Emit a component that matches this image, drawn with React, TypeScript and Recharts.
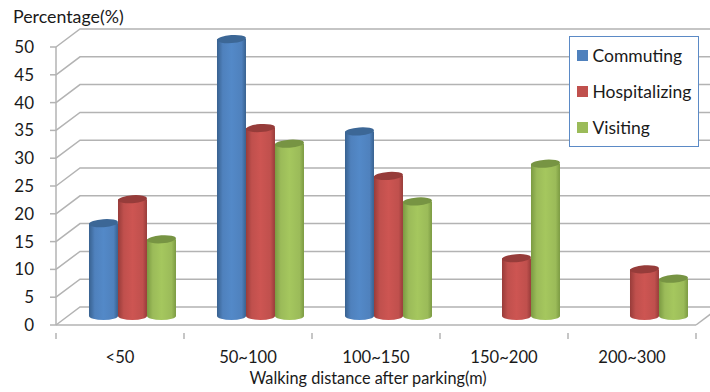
import React from "react";
import { BarChart, Bar, XAxis, YAxis, CartesianGrid, Legend } from "recharts";

const categories = ["<50", "50~100", "100~150", "150~200", "200~300"];
const commuting = [16.7, 49.8, 33.2, null, null];
const hospitalizing = [21, 33.8, 25.2, 10.4, 8.4];
const visiting = [13.8, 31, 20.6, 27.4, 6.7];
const yTicks = [0, 5, 10, 15, 20, 25, 30, 35, 40, 45, 50];

const data = categories.map((name, i) => ({
  name,
  Commuting: commuting[i],
  Hospitalizing: hospitalizing[i],
  Visiting: visiting[i],
}));

const W = 710;
const H = 392;
const margin = { top: 47, right: 14, bottom: 0, left: 0 };
const AXIS_W = 56;
const X_AXIS_H = 67;
const BAND = (W - AXIS_W - margin.right) / categories.length;
const FONT = "Lato, 'Open Sans', sans-serif";
const TEXT = "#1a1a1a";
const GRID = "#b3b3b3";

// wall depth of the fake 3D box, bars stand halfway into it
const DEPTH_X = 24;
const DEPTH_Y = 18;

const series = [
  { key: "Commuting", fill: "#4F81BD", light: "#5389C8", top: "#3C6796", edge: "#38618f", id: "cylBlue" },
  { key: "Hospitalizing", fill: "#C0504D", light: "#CD5552", top: "#963C3A", edge: "#983c3a", id: "cylRed" },
  { key: "Visiting", fill: "#9BBB59", light: "#A5C75E", top: "#779443", edge: "#7b9a42", id: "cylGreen" },
];

function Cylinder(props: any) {
  const { x, y, width, height, gradient, top } = props;
  if (!height || height <= 0) return null;
  const left = x + DEPTH_X / 2;
  const w = width;
  const cy = y - DEPTH_Y / 2;
  const base = cy + height;
  const ry = 4;
  const body = `M${left},${cy} L${left},${base} A${w / 2},${ry} 0 0 0 ${left + w},${base} L${left + w},${cy} Z`;
  return (
    <g>
      <path d={body} fill={`url(#${gradient})`} />
      <ellipse
        cx={left + w / 2}
        cy={cy}
        rx={w / 2}
        ry={ry}
        fill={top}
        transform={`rotate(-4 ${left + w / 2} ${cy})`}
      />
    </g>
  );
}

// each gridline runs along the left wall, then across the back
function WallLine(props: any) {
  const { x1, x2, y1 } = props;
  const floor = Math.abs(y1 - (H - X_AXIS_H)) < 1;
  return (
    <g>
      <polyline
        points={`${x1},${y1} ${x1 + DEPTH_X},${y1 - DEPTH_Y} ${x2 + DEPTH_X},${y1 - DEPTH_Y}`}
        fill="none"
        stroke={GRID}
        strokeWidth={1.5}
      />
      {floor && <line x1={x2} y1={y1} x2={x2 + DEPTH_X} y2={y1 - DEPTH_Y} stroke={GRID} strokeWidth={1.5} />}
    </g>
  );
}

function CategoryTick(props: any) {
  const { x, y, payload, index } = props;
  const left = x - BAND / 2;
  return (
    <g>
      <line x1={left} y1={y} x2={left} y2={y + 6} stroke={GRID} strokeWidth={1.5} />
      {index === categories.length - 1 && (
        <line x1={x + BAND / 2} y1={y} x2={x + BAND / 2} y2={y + 6} stroke={GRID} strokeWidth={1.5} />
      )}
      <text x={x} y={y + 30} textAnchor="middle" fontFamily={FONT} fontSize={16.6} fill={TEXT}>
        {payload.value}
      </text>
    </g>
  );
}

function LegendBox() {
  return (
    <div
      style={{
        boxSizing: "border-box",
        width: 130,
        height: 111,
        background: "#fff",
        border: "1.5px solid #5b8ac6",
        padding: "0 0 0 6.5px",
        display: "flex",
        flexDirection: "column",
        justifyContent: "space-around",
        fontFamily: FONT,
        fontSize: 17.5,
        color: TEXT,
        whiteSpace: "nowrap",
      }}
    >
      {series.map((s) => (
        <div key={s.key} style={{ display: "flex", alignItems: "center", height: 37 }}>
          <span style={{ width: 11, height: 11, background: s.fill, marginRight: 5, flex: "none" }} />
          {s.key}
        </div>
      ))}
    </div>
  );
}

export default function App() {
  return (
    <div style={{ position: "absolute", left: 0, top: 0, width: W, height: H, background: "#fff" }}>
      <BarChart width={W} height={H} data={data} margin={margin} barGap={0} barCategoryGap="16.4%">
        <defs>
          {series.map((s) => (
            <linearGradient key={s.id} id={s.id} x1="0" y1="0" x2="1" y2="0">
              <stop offset="0" stopColor={s.edge} />
              <stop offset="0.2" stopColor={s.fill} />
              <stop offset="0.5" stopColor={s.light} />
              <stop offset="0.85" stopColor={s.fill} />
              <stop offset="1" stopColor={s.edge} />
            </linearGradient>
          ))}
        </defs>
        <text x={13} y={23} fontFamily={FONT} fontSize={17.8} fill={TEXT}>
          Percentage(%)
        </text>
        <CartesianGrid vertical={false} horizontal={(p: any) => <WallLine {...p} />} />
        <XAxis
          dataKey="name"
          interval={0}
          tickLine={false}
          tick={(p: any) => <CategoryTick {...p} />}
          axisLine={{ stroke: GRID, strokeWidth: 1.5 }}
          height={X_AXIS_H}
          label={{
            value: "Walking distance after parking(m)",
            position: "insideBottom",
            offset: 8,
            dx: -8,
            style: { fontFamily: FONT, fontSize: 16.3, fill: TEXT },
          }}
        />
        <YAxis
          width={AXIS_W}
          domain={[0, 50]}
          ticks={yTicks}
          interval={0}
          tickSize={6}
          tickMargin={16}
          tick={{ fontFamily: FONT, fontSize: 17, fill: TEXT }}
          tickLine={{ stroke: GRID, strokeWidth: 1.5 }}
          axisLine={{ stroke: GRID, strokeWidth: 1.5 }}
        />
        {series.map((s) => (
          <Bar
            key={s.key}
            dataKey={s.key}
            fill={s.fill}
            isAnimationActive={false}
            legendType="square"
            shape={(p: any) => <Cylinder {...p} gradient={s.id} top={s.top} />}
          />
        ))}
        {/* vertical + center + middle keeps the box from taking plot space */}
        <Legend
          layout="vertical"
          align="center"
          verticalAlign="middle"
          content={() => <LegendBox />}
          wrapperStyle={{ position: "absolute", left: 569, top: 36, width: 130, height: 111 }}
        />
      </BarChart>
    </div>
  );
}
